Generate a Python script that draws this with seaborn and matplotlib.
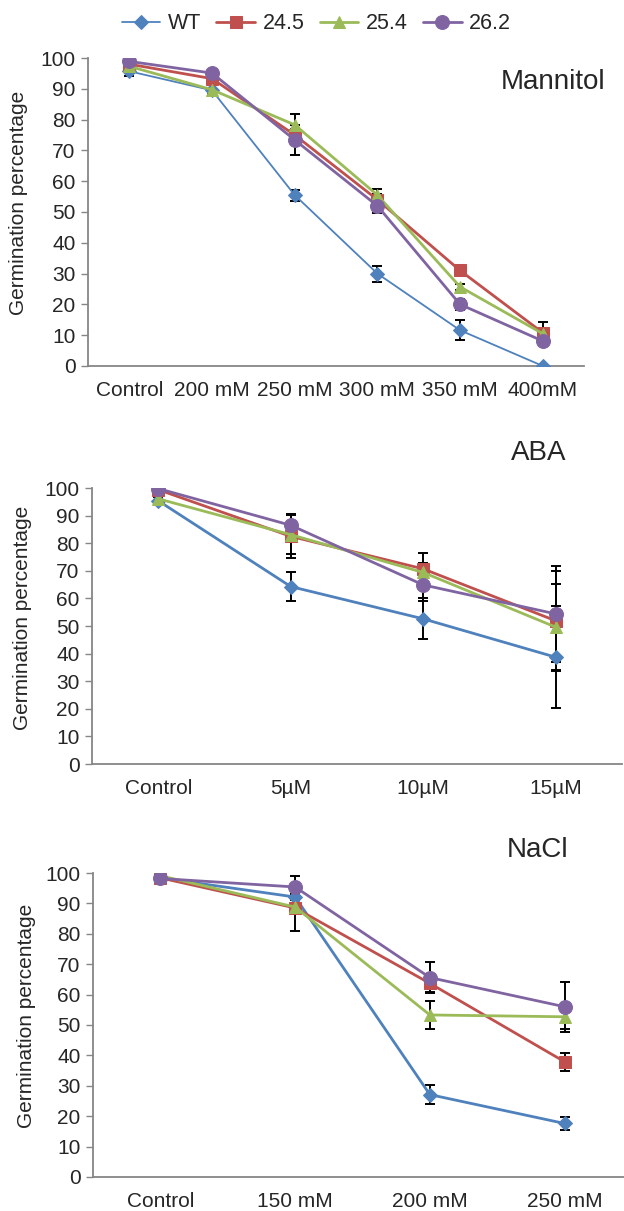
import matplotlib
matplotlib.use('Agg')
import matplotlib.pyplot as plt
import seaborn as sns

# Linien / Farben / Marker (Excel-Palette)
lines = ['WT', '24.5', '25.4', '26.2']
colors = ['#4F81BD', '#C0504D', '#9BBB59', '#8064A2']
markers = ['D', 's', '^', 'o']
msizes = [7, 9, 9, 10]

# Mannitol
mannitol_x = ['Control', '200 mM', '250 mM', '300 mM', '350 mM', '400mM']
mannitol_wt = [95.7, 89.5, 55.5, 30.0, 11.6, 0.0]
mannitol_245 = [98.0, 93.3, 75.0, 54.0, 31.0, 10.8]
mannitol_254 = [97.3, 89.7, 78.3, 55.5, 25.7, 10.5]
mannitol_262 = [98.9, 95.1, 73.4, 52.0, 20.0, 8.1]
mannitol_wt_err = [1.5, 1.7, 1.8, 2.6, 3.3, 0.0]
mannitol_245_err = [1.0, 1.5, 2.0, 2.0, 1.0, 3.5]
mannitol_254_err = [1.0, 1.5, 3.5, 2.0, 1.0, 1.0]
mannitol_262_err = [1.0, 1.0, 5.0, 2.4, 1.8, 1.0]

# ABA
aba_x = ['Control', '5µM', '10µM', '15µM']
aba_wt = [95.4, 64.3, 52.6, 38.7]
aba_245 = [99.4, 82.5, 70.7, 51.9]
aba_254 = [96.1, 83.1, 69.4, 49.6]
aba_262 = [99.8, 86.5, 64.9, 54.4]
aba_wt_err = [1.2, 5.2, 7.4, 18.5]
aba_245_err = [1.0, 8.0, 5.7, 18.0]
aba_254_err = [1.0, 7.0, 3.5, 15.8]
aba_262_err = [1.0, 4.0, 6.0, 17.5]

# NaCl
nacl_x = ['Control', '150 mM', '200 mM', '250 mM']
nacl_wt = [98.4, 92.1, 27.1, 17.6]
nacl_245 = [98.4, 88.5, 63.7, 37.9]
nacl_254 = [99.1, 88.8, 53.3, 52.7]
nacl_262 = [98.2, 95.4, 65.6, 56.0]
nacl_wt_err = [0.8, 1.0, 3.1, 2.2]
nacl_245_err = [0.8, 7.5, 3.0, 3.0]
nacl_254_err = [0.8, 1.0, 4.7, 4.0]
nacl_262_err = [0.8, 3.7, 5.0, 8.3]

panels = [
    ('Mannitol', mannitol_x, [mannitol_wt, mannitol_245, mannitol_254, mannitol_262],
     [mannitol_wt_err, mannitol_245_err, mannitol_254_err, mannitol_262_err]),
    ('ABA', aba_x, [aba_wt, aba_245, aba_254, aba_262],
     [aba_wt_err, aba_245_err, aba_254_err, aba_262_err]),
    ('NaCl', nacl_x, [nacl_wt, nacl_245, nacl_254, nacl_262],
     [nacl_wt_err, nacl_245_err, nacl_254_err, nacl_262_err]),
]

sns.set_style('white')
plt.rcParams['font.family'] = ['Liberation Sans', 'DejaVu Sans']

fig = plt.figure(figsize=(6.24, 12.11), dpi=100)

positions = [
    [0.141, 0.6978, 0.795, 0.2543],
    [0.1474, 0.3691, 0.8494, 0.2279],
    [0.149, 0.0281, 0.8638, 0.2510],
]
title_pos = [(0.886, 0.932), (0.864, 0.626), (0.861, 0.298)]
label_x = [-0.121, -0.113, -0.106]

axes = []
for k, (name, xs, series, errs) in enumerate(panels):
    ax = fig.add_axes(positions[k])
    axes.append(ax)
    for i, (vals, err) in enumerate(zip(series, errs)):
        lw = 1.3 if (k == 0 and i == 0) else 2.0
        ax.errorbar(range(len(xs)), vals, yerr=err, fmt='none', ecolor='black',
                    elinewidth=1.4, capsize=3.5, capthick=1.4, zorder=2)
        sns.lineplot(x=xs, y=vals, color=colors[i], marker=markers[i], markersize=msizes[i],
                     markeredgecolor=colors[i], linewidth=lw, sort=False, ax=ax,
                     label=lines[i], zorder=3)
    ax.set_xlim(-0.5, len(xs) - 0.5)
    ax.set_ylim(0, 100)
    ax.set_yticks(range(0, 101, 10))
    ax.set_ylabel('Germination percentage', fontsize=15)
    ax.yaxis.set_label_coords(label_x[k], 0.53)
    ax.set_xlabel('')
    ax.tick_params(axis='y', labelsize=15, length=5, width=1, color='#868686', pad=4, left=True)
    ax.tick_params(axis='x', labelsize=15, length=0, pad=11)
    for side in ['top', 'right']:
        ax.spines[side].set_visible(False)
    for side in ['left', 'bottom']:
        ax.spines[side].set_color('#868686')
        ax.spines[side].set_linewidth(1.3)
    fig.text(title_pos[k][0], title_pos[k][1], name, fontsize=20, ha='center', va='center')
    if k == 0:
        handles, labels = ax.get_legend_handles_labels()
    ax.get_legend().remove()

fig.legend(handles, labels, loc='upper center', bbox_to_anchor=(0.507, 0.997), ncol=4,
           frameon=False, fontsize=15.5, handlelength=1.8, columnspacing=0.7,
           handletextpad=0.35, borderaxespad=0.05)

plt.savefig('out.png', dpi=100)
plt.close()
